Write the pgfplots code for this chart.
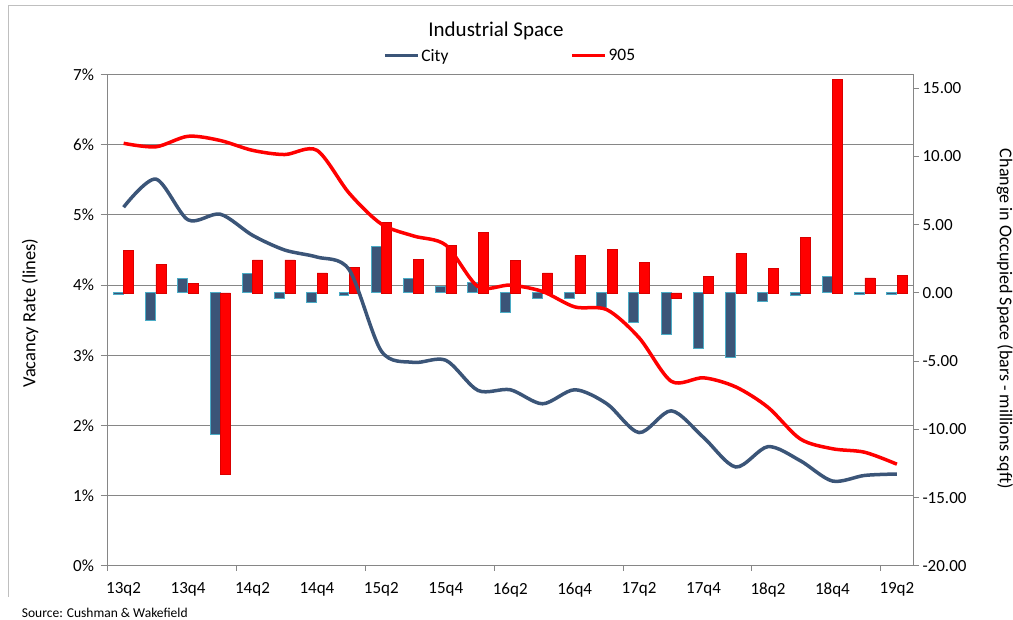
\documentclass[border=0pt]{standalone}
\usepackage{fontspec}
\setmainfont{Carlito}
\usepackage{pgfplots}
\pgfplotsset{compat=1.18}
\usepackage{pgfplotstable}

\definecolor{cityblue}{HTML}{3B5578}
\definecolor{cityedge}{HTML}{4BACC6}
\definecolor{gridgray}{HTML}{868686}
\definecolor{bordergray}{HTML}{BFBFBF}

\pgfplotstableread{
idx cl rl cb rb
0 5.11 6.02 -0.12 3.13
1 5.51 5.97 -2.03 2.10
2 4.93 6.12 1.03 0.68
3 5.01 6.06 -10.40 -13.30
4 4.71 5.92 1.39 2.42
5 4.50 5.86 -0.42 2.42
6 4.40 5.92 -0.73 1.47
7 4.22 5.31 -0.20 1.86
8 3.06 4.87 3.42 5.15
9 2.90 4.70 1.05 2.44
10 2.93 4.57 0.46 3.49
11 2.50 3.98 0.78 4.42
12 2.51 4.00 -1.42 2.37
13 2.31 3.91 -0.44 1.47
14 2.51 3.69 -0.44 2.73
15 2.31 3.65 -1.10 3.17
16 1.90 3.25 -2.17 2.22
17 2.21 2.63 -3.05 -0.37
18 1.83 2.68 -4.08 1.20
19 1.41 2.55 -4.74 2.88
20 1.70 2.26 -0.61 1.78
21 1.50 1.81 -0.20 4.05
22 1.21 1.67 1.20 15.65
23 1.29 1.62 -0.08 1.10
24 1.31 1.45 -0.08 1.27
}\data

\pgfplotsset{
  common/.style={
    at={(107.5pt,54pt)}, anchor=south west,
    scale only axis, width=805.5pt, height=491.5pt,
    xmin=-0.5, xmax=24.5,
  },
}

\begin{document}
\begin{tikzpicture}[x=1pt,y=1pt]
\useasboundingbox (0,0) rectangle (1013,620);
\draw[bordergray, line width=1pt] (8,23) -- (8,614) -- (1013,614);

% grid, left axis, x axis
\begin{axis}[common,
  ymin=0, ymax=7,
  axis x line*=bottom, axis y line*=left,
  axis line style={gridgray, line width=1pt, -},
  ytick={0,1,...,7},
  yticklabels={0\%,1\%,2\%,3\%,4\%,5\%,6\%,7\%},
  xtick={0,2,...,24},
  xticklabels={13q2,13q4,14q2,14q4,15q2,15q4,16q2,16q4,17q2,17q4,18q2,18q4,19q2},
  minor xtick={-0.5,3.5,...,23.5},
  major x tick style={draw=none},
  minor x tick style={gridgray, line width=1pt},
  ytick style={gridgray, line width=1pt},
  tick align=outside, major tick length=7pt, minor tick length=5pt,
  ymajorgrids, grid style={gridgray, line width=1pt},
  ticklabel style={font=\fontsize{17}{19}\selectfont, text=black},
  xticklabel style={yshift=-6pt},
  yticklabel style={xshift=-3pt},
]
\addplot[draw=none] coordinates {(0,0)};
\end{axis}

% bars, right axis
\begin{axis}[common,
  ymin=-20, ymax=16,
  axis x line=none, axis y line*=right,
  axis line style={gridgray, line width=1pt, -},
  ytick={-20,-15,...,15},
  ytick style={gridgray, line width=1pt},
  tick align=outside, major tick length=6pt,
  /pgf/number format/.cd, fixed, fixed zerofill, precision=2, assume math mode=true,
  /pgfplots/.cd,
  yticklabel style={font=\fontsize{17}{19}\selectfont, text=black},
  ybar, bar width=0.31,
]
\addplot[fill=cityblue, draw=cityedge, line width=1pt, bar shift=-0.16] table[x=idx, y=cb] {\data};
\addplot[fill=red, draw=red!85!black, line width=0.6pt, bar shift=0.16] table[x=idx, y=rb] {\data};
\end{axis}

% lines
\begin{axis}[common,
  ymin=0, ymax=7,
  hide axis,
  legend style={at={(0.5,1.0377)}, anchor=center, draw=none, fill=none,
    font=\fontsize{17.5}{20}\selectfont,
    /tikz/every even column/.append style={column sep=120pt}},
  legend columns=2,
  legend image code/.code={\draw[#1, line width=3pt] (0pt,0pt) -- (33pt,0pt);},
]
\addplot[cityblue, line width=3.5pt, smooth, tension=0.5] table[x=idx, y=cl] {\data};
\addlegendentry{City}
\addplot[red, line width=3.5pt, smooth, tension=0.5] table[x=idx, y=rl] {\data};
\addlegendentry{905}
\end{axis}

\node[anchor=base, font=\fontsize{21}{24}\selectfont] at (496,583) {Industrial Space};
\node[rotate=90, font=\fontsize{18.5}{21}\selectfont] at (30,307) {Vacancy Rate (lines)};
\node[rotate=-90, font=\fontsize{18}{21}\selectfont] at (1005,301) {Change in Occupied Space (bars - millions sqft)};
\node[anchor=base west, inner sep=0pt, font=\fontsize{13.5}{15}\selectfont] at (21.7,2) {Source: Cushman \& Wakefield};
\end{tikzpicture}
\end{document}
